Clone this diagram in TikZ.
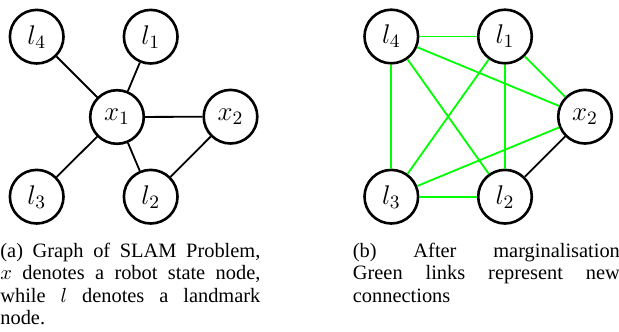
\RequirePackage{fix-cm}
\documentclass[tikz,border=0pt]{standalone}
\usepackage[no-math]{fontspec}
\setmainfont{Liberation Serif}
\begin{document}
\begin{tikzpicture}[x=0.5pt,y=-0.5pt,
  vnode/.style={circle,draw,line width=1.3pt,minimum size=26.8pt,inner sep=0pt,
    font=\fontsize{13.5}{16}\selectfont},
  edge/.style={line width=0.9pt},
  newedge/.style={line width=0.9pt,draw=green},
  captext/.style={anchor=base west,inner sep=0pt,align=justify,
    font=\fontsize{10.2}{11.25}\selectfont}]
\useasboundingbox (0,0) rectangle (619,331);
% left graph
\node[vnode] (al4) at (36.7,36.7) {$l_4$};
\node[vnode] (al1) at (150.7,36.7) {$l_1$};
\node[vnode] (ax1) at (117,117) {$x_1$};
\node[vnode] (ax2) at (230.5,116.7) {$x_2$};
\node[vnode] (al3) at (36.7,196.7) {$l_3$};
\node[vnode] (al2) at (150.7,196.7) {$l_2$};
\draw[edge] (al4) -- (ax1);
\draw[edge] (al1) -- (ax1);
\draw[edge] (ax1) -- (ax2);
\draw[edge] (ax1) -- (al3);
\draw[edge] (ax1) -- (al2);
\draw[edge] (ax2) -- (al2);
% right graph
\node[vnode] (bl4) at (391.3,36.5) {$l_4$};
\node[vnode] (bl1) at (505,36.5) {$l_1$};
\node[vnode] (bx2) at (585,116.7) {$x_2$};
\node[vnode] (bl3) at (391.3,196.7) {$l_3$};
\node[vnode] (bl2) at (505,196.7) {$l_2$};
\draw[newedge] (bl4) -- (bl1);
\draw[newedge] (bl4) -- (bx2);
\draw[newedge] (bl4) -- (bl3);
\draw[newedge] (bl4) -- (bl2);
\draw[newedge] (bl1) -- (bl3);
\draw[newedge] (bl1) -- (bl2);
\draw[newedge] (bl1) -- (bx2);
\draw[newedge] (bl3) -- (bl2);
\draw[newedge] (bl3) -- (bx2);
\draw[edge] (bx2) -- (bl2);
% captions
\node[captext,text width=130pt] (capa) at (0,257)
  {(a) Graph of SLAM Problem,\linebreak $x$ denotes a robot state node,\linebreak while $l$ denotes a landmark\linebreak node.};
\node[captext,text width=133.5pt] (capb) at (352.5,257)
  {(b) After marginalisation\linebreak Green links represent new\linebreak connections};
\end{tikzpicture}
\end{document}
